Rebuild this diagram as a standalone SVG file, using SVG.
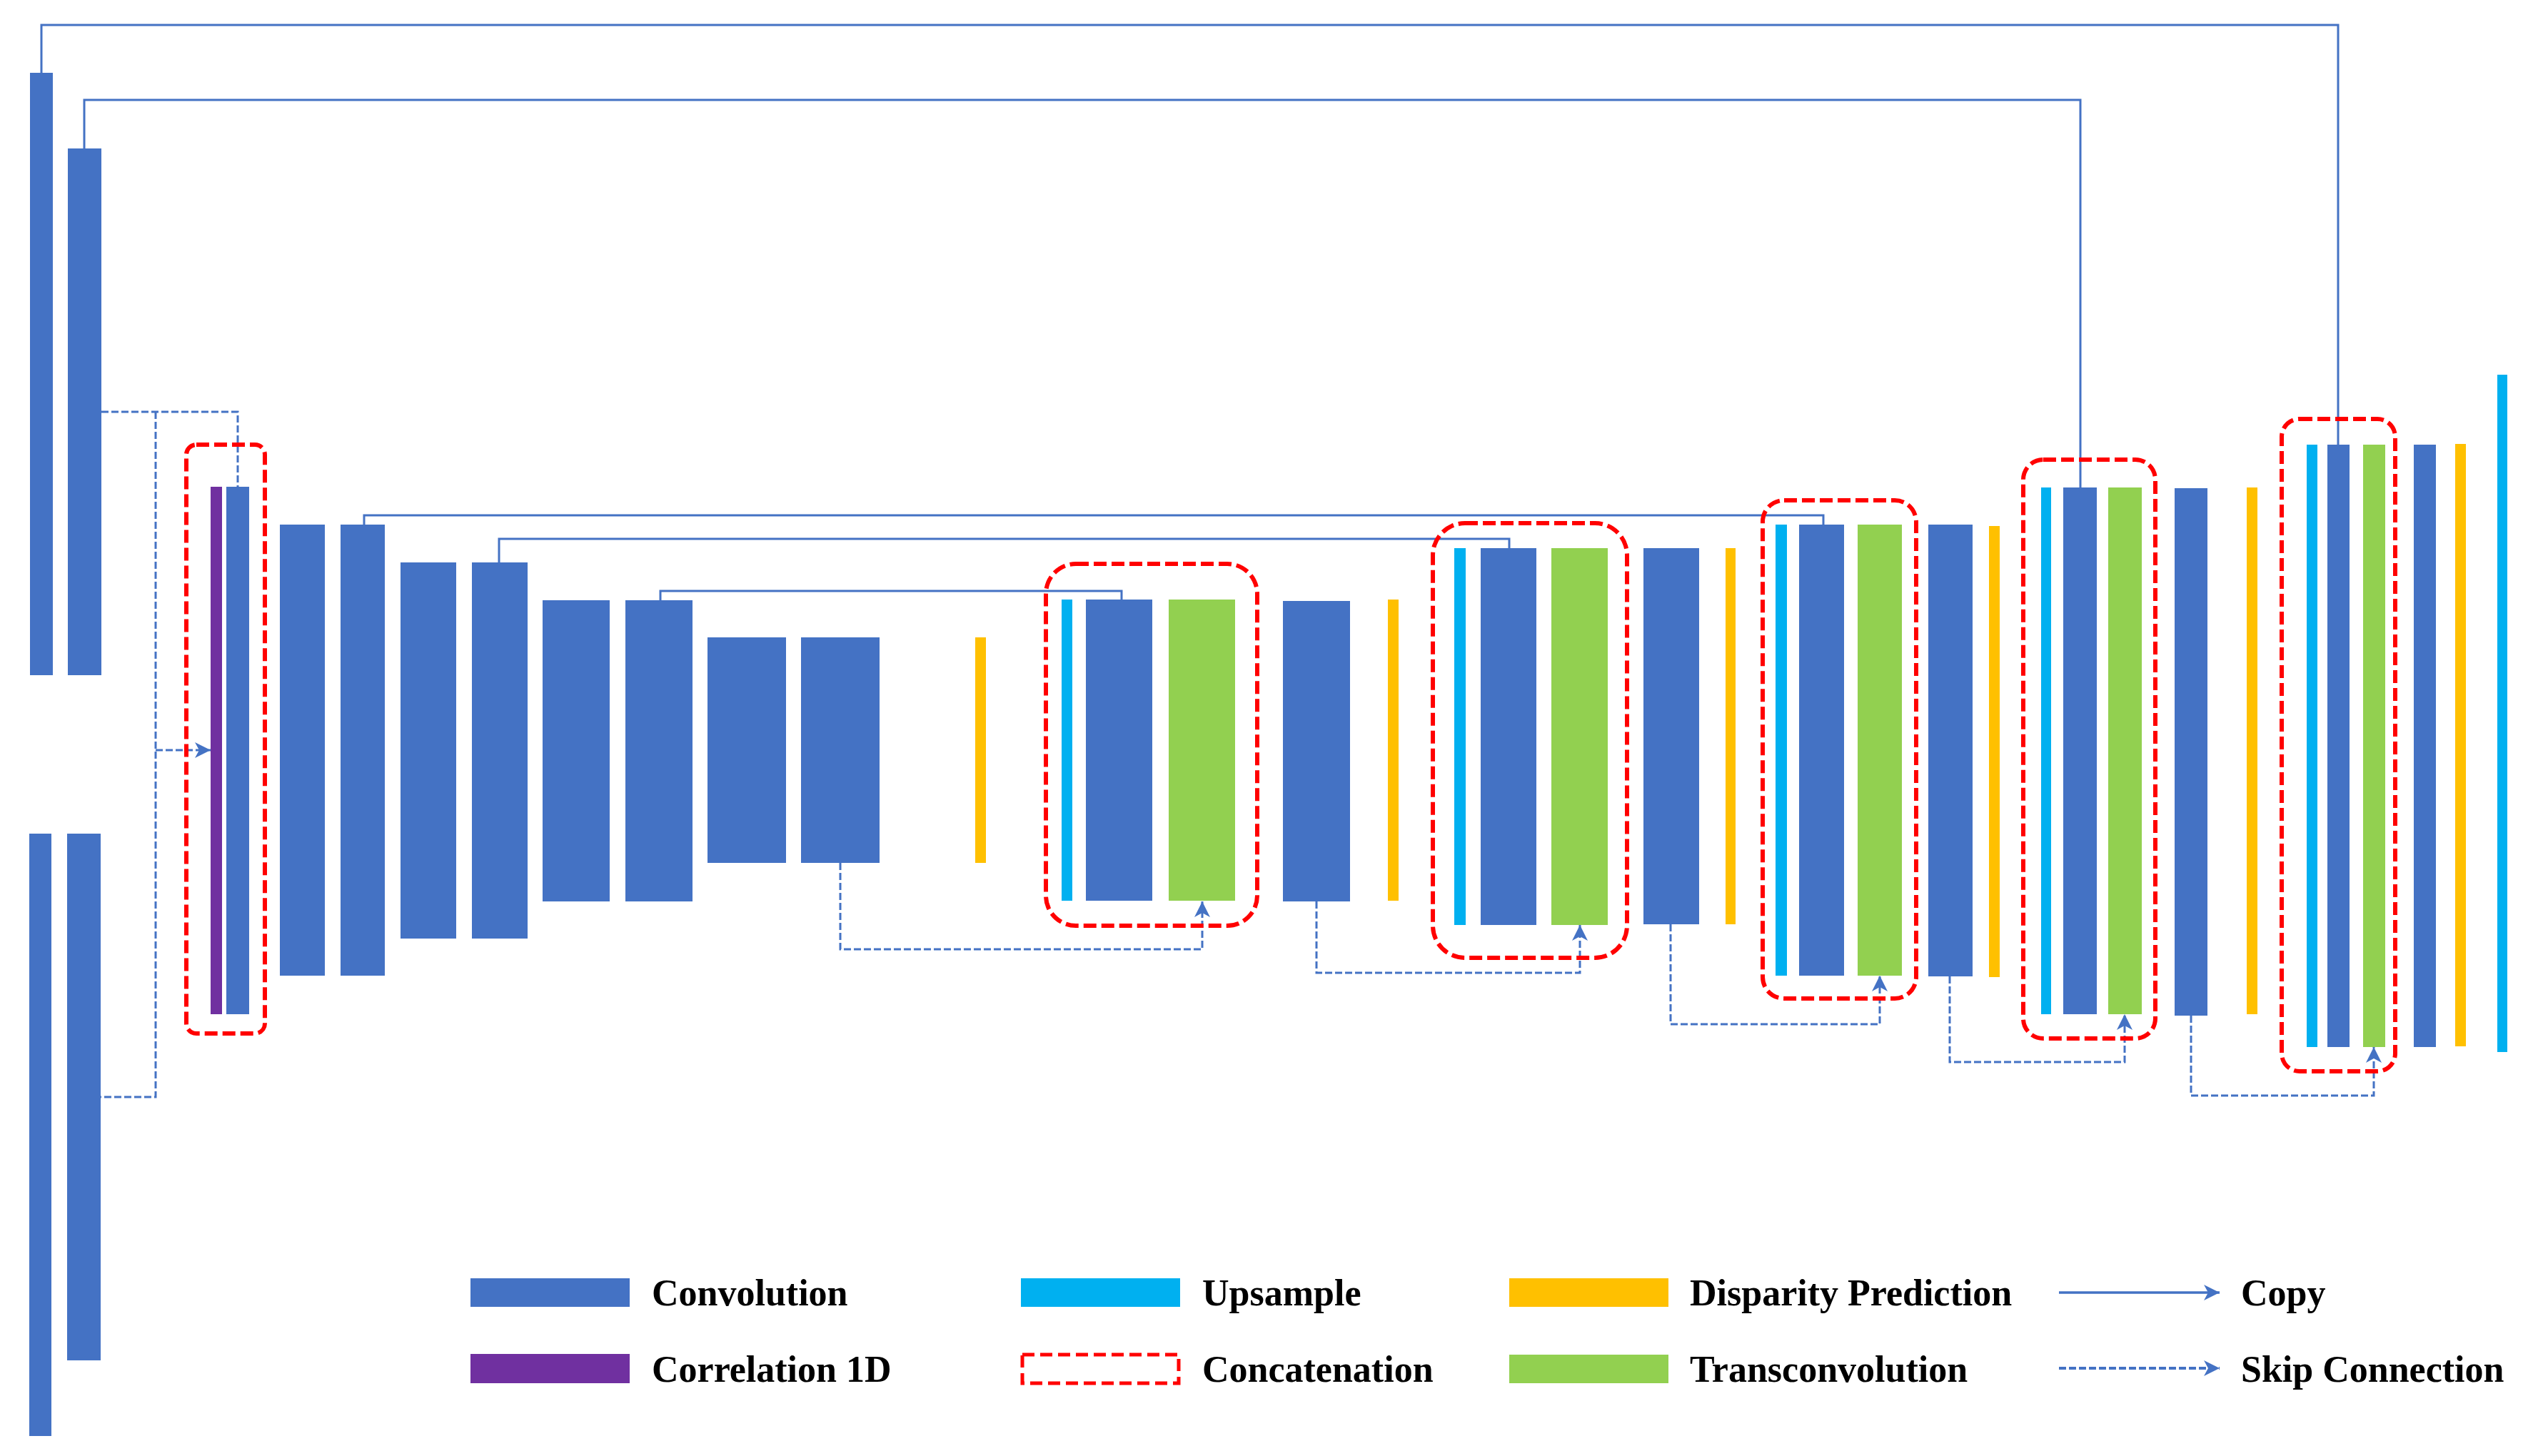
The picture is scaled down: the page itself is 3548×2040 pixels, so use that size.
<svg xmlns="http://www.w3.org/2000/svg" width="3548" height="2040" viewBox="0 0 3548 2040">
<style>
.conv{fill:#4472C4}
.corr{fill:#7030A0}
.up{fill:#00B0F0}
.disp{fill:#FFC000}
.tconv{fill:#92D050}
.cat{fill:none;stroke:#FF0000;stroke-width:6;stroke-dasharray:18 7}
.copy{fill:none;stroke:#4472C4;stroke-width:3}
.skip{fill:none;stroke:#4472C4;stroke-width:3;stroke-dasharray:10 4}
.lbl{font-family:"Liberation Serif","Times New Roman",serif;font-weight:bold;font-size:52px;fill:#000}
</style>
<defs>
<marker id="arr" viewBox="0 -11 22 22" refX="22" refY="0" markerWidth="22" markerHeight="22" markerUnits="userSpaceOnUse" orient="auto">
<path d="M0,-11 L22,0 L0,11 L6,0 Z" fill="#4472C4"/>
</marker>
</defs>
<rect width="3548" height="2040" fill="#fff"/>

<g id="connectors">
<path class="copy" d="M58,102 V35 H3275 V623"/>
<path class="copy" d="M118,208 V140 H2914 V683"/>
<path class="copy" d="M510,735 V722 H2554 V735"/>
<path class="copy" d="M699,788 V755 H2114 V768"/>
<path class="copy" d="M925,841 V828 H1571 V840"/>
<path class="skip" d="M142,577 H333 V682"/>
<path class="skip" d="M218,577 V1537 H141"/>
<path class="skip" d="M218,1051 H295" marker-end="url(#arr)"/>
<path class="skip" d="M1177,1209 V1330 H1684 V1263" marker-end="url(#arr)"/>
<path class="skip" d="M1844,1263 V1363 H2213 V1296" marker-end="url(#arr)"/>
<path class="skip" d="M2340,1295 V1435 H2633 V1367" marker-end="url(#arr)"/>
<path class="skip" d="M2731,1368 V1488 H2976 V1421" marker-end="url(#arr)"/>
<path class="skip" d="M3069,1423 V1535 H3325 V1467" marker-end="url(#arr)"/>
</g>

<g id="nodes">
<rect id="A1" class="conv" x="42" y="102" width="32" height="844"/>
<rect id="A2" class="conv" x="95" y="208" width="47" height="738"/>
<rect id="D1" class="conv" x="41" y="1168" width="31" height="844"/>
<rect id="D2" class="conv" x="94" y="1168" width="47" height="738"/>
<rect id="P" class="corr" x="295" y="682" width="16" height="739"/>
<rect id="B" class="conv" x="317" y="682" width="32" height="739"/>
<rect id="C1" class="conv" x="392" y="735" width="63" height="632"/>
<rect id="C2" class="conv" x="477" y="735" width="62" height="632"/>
<rect id="C3" class="conv" x="561" y="788" width="78" height="527"/>
<rect id="C4" class="conv" x="661" y="788" width="78" height="527"/>
<rect id="C5" class="conv" x="760" y="841" width="94" height="422"/>
<rect id="C6" class="conv" x="876" y="841" width="94" height="422"/>
<rect id="C7" class="conv" x="991" y="893" width="110" height="316"/>
<rect id="C8" class="conv" x="1122" y="893" width="110" height="316"/>
<rect id="Y1" class="disp" x="1366" y="893" width="15" height="316"/>
<rect id="U1" class="up" x="1487" y="840" width="15" height="422"/>
<rect id="E1" class="conv" x="1521" y="840" width="93" height="422"/>
<rect id="G1" class="tconv" x="1637" y="840" width="93" height="422"/>
<rect id="F1" class="conv" x="1797" y="842" width="94" height="421"/>
<rect id="Y2" class="disp" x="1944" y="840" width="15" height="422"/>
<rect id="U2" class="up" x="2037" y="768" width="16" height="528"/>
<rect id="E2" class="conv" x="2074" y="768" width="78" height="528"/>
<rect id="G2" class="tconv" x="2173" y="768" width="79" height="528"/>
<rect id="F2" class="conv" x="2302" y="768" width="78" height="527"/>
<rect id="Y3" class="disp" x="2417" y="768" width="14" height="527"/>
<rect id="U3" class="up" x="2487" y="735" width="16" height="632"/>
<rect id="E3" class="conv" x="2520" y="735" width="63" height="632"/>
<rect id="G3" class="tconv" x="2602" y="735" width="62" height="632"/>
<rect id="F3" class="conv" x="2701" y="735" width="62" height="633"/>
<rect id="Y4" class="disp" x="2786" y="737" width="15" height="632"/>
<rect id="U4" class="up" x="2859" y="683" width="14" height="738"/>
<rect id="E4" class="conv" x="2890" y="683" width="47" height="738"/>
<rect id="G4" class="tconv" x="2953" y="683" width="47" height="738"/>
<rect id="F4" class="conv" x="3046" y="684" width="46" height="739"/>
<rect id="Y5" class="disp" x="3147" y="683" width="15" height="738"/>
<rect id="U5" class="up" x="3231" y="623" width="15" height="844"/>
<rect id="E5" class="conv" x="3260" y="623" width="31" height="844"/>
<rect id="G5" class="tconv" x="3310" y="623" width="31" height="844"/>
<rect id="F5" class="conv" x="3381" y="623" width="31" height="844"/>
<rect id="Y6" class="disp" x="3439" y="622" width="15" height="844"/>
<rect id="U6" class="up" x="3498" y="525" width="14" height="949"/>
</g>

<g id="concat-groups">
<rect id="R1" class="cat" x="261" y="623" width="110" height="825" rx="14"/>
<rect id="R2" class="cat" x="1465" y="790" width="296" height="507" rx="42"/>
<rect id="R3" class="cat" x="2007" y="733" width="272" height="609" rx="45"/>
<rect id="R4" class="cat" x="2469" y="701" width="215" height="698" rx="30"/>
<rect id="R5" class="cat" x="2834" y="644" width="185" height="811" rx="28"/>
<rect id="R6" class="cat" x="3196" y="587" width="159" height="914" rx="25"/>
</g>

<g id="legend">
<rect class="conv" x="659" y="1791" width="223" height="40"/>
<text class="lbl" x="913" y="1829">Convolution</text>
<rect class="corr" x="659" y="1897" width="223" height="41"/>
<text class="lbl" x="913" y="1936">Correlation 1D</text>
<rect class="up" x="1430" y="1791" width="223" height="40"/>
<text class="lbl" x="1684" y="1829">Upsample</text>
<rect x="1432" y="1898" width="219" height="40" fill="none" stroke="#FF0000" stroke-width="5" stroke-dasharray="17 8"/>
<text class="lbl" x="1684" y="1936">Concatenation</text>
<rect class="disp" x="2114" y="1791" width="223" height="40"/>
<text class="lbl" x="2367" y="1829">Disparity Prediction</text>
<rect class="tconv" x="2114" y="1898" width="223" height="40"/>
<text class="lbl" x="2367" y="1936">Transconvolution</text>
<path d="M2884,1811 H3109" fill="none" stroke="#4472C4" stroke-width="3.5" marker-end="url(#arr)"/>
<text class="lbl" x="3139" y="1829">Copy</text>
<path d="M2884,1917 H3109" fill="none" stroke="#4472C4" stroke-width="4" stroke-dasharray="10 4" marker-end="url(#arr)"/>
<text class="lbl" x="3139" y="1936">Skip Connection</text>
</g>
</svg>
